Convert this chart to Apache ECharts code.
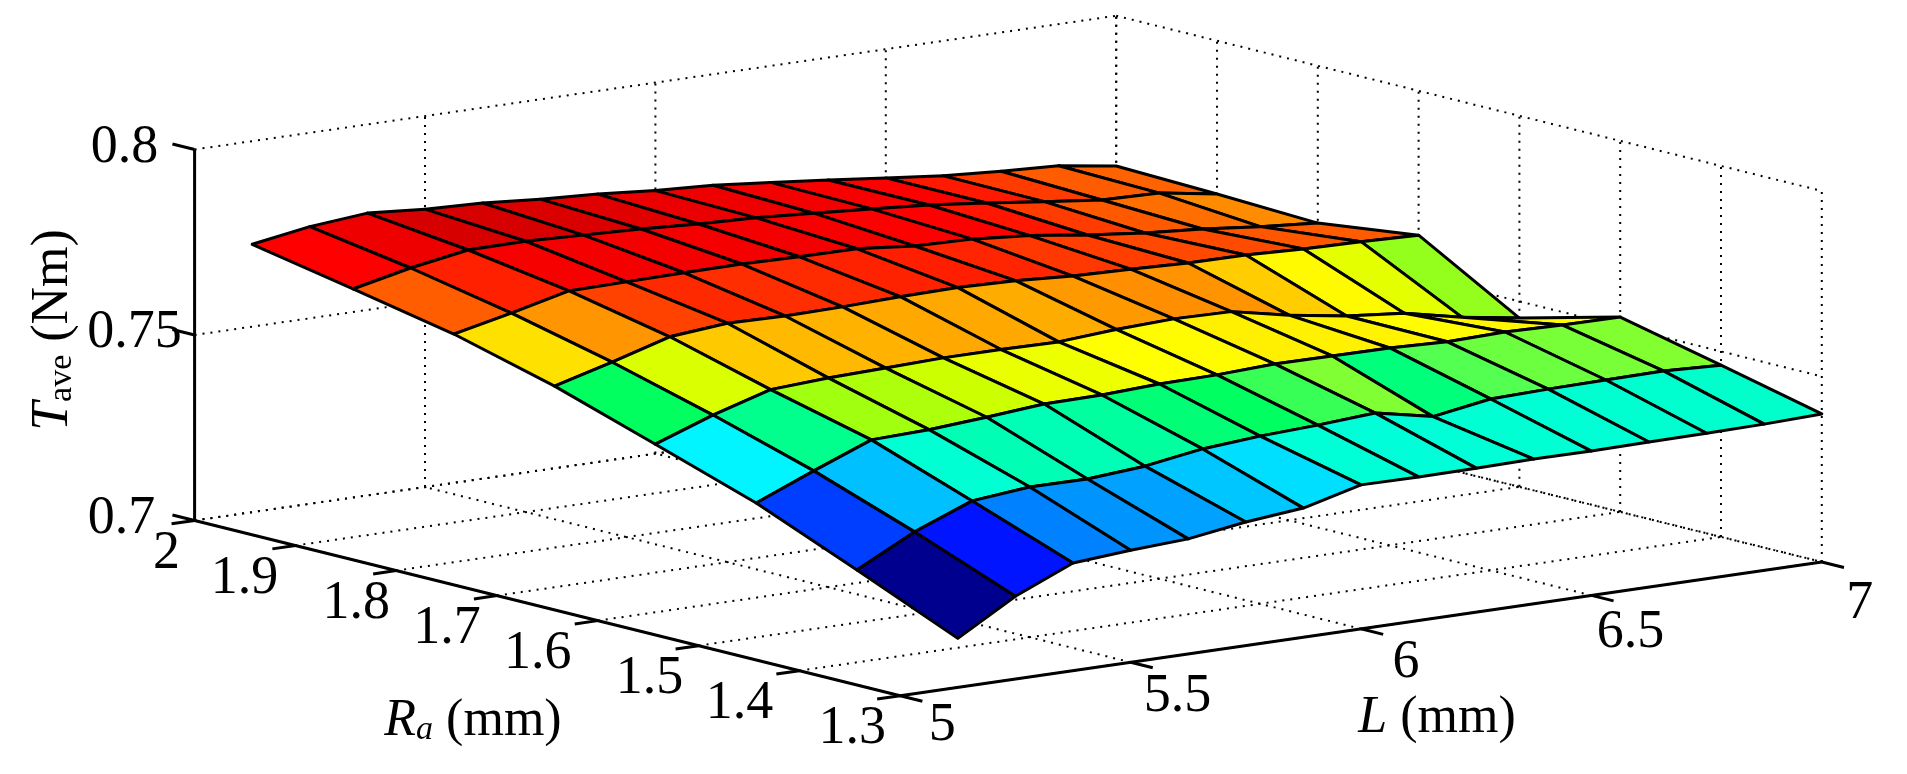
<!DOCTYPE html>
<html>
<head>
<meta charset="utf-8">
<title>Tave surface</title>
<style>
  html, body { margin: 0; padding: 0; background: #fff; }
  #main { width: 1907px; height: 774px; }
</style>
<script src="https://cdn.jsdelivr.net/npm/echarts@6/dist/echarts.min.js"></script>
</head>
<body>
<div id="main"></div>
<script>
// surface samples, one row per Ra value, one column per L value
var lengths = [5.125, 5.25, 5.375, 5.5, 5.625, 5.75, 5.875, 6, 6.125, 6.25, 6.375, 6.5, 6.625, 6.75, 6.875, 7];
var radii = [2, 1.9, 1.8, 1.7, 1.6, 1.5, 1.4, 1.3];
var taveRa20 = [.7722, .7747, .7761, .7749, .7743, .7731, .7722, .7709, .7701, .7686, .7670, .7653, .7636, .7626, .7618, .7595];
var taveRa19 = [.7669, .7703, .7729, .7730, .7724, .7718, .7709, .7703, .7693, .7682, .7670, .7653, .7634, .7616, .7612, .7587];
var taveRa18 = [.7615, .7649, .7686, .7688, .7690, .7691, .7688, .7687, .7672, .7668, .7655, .7634, .7617, .7605, .7589, .7576];
var taveRa17 = [.7542, .7584, .7630, .7644, .7641, .7643, .7648, .7650, .7646, .7636, .7632, .7626, .7625, .7619, .7616, .7611];
var taveRa16 = [.7453, .7509, .7555, .7564, .7568, .7573, .7573, .7571, .7582, .7588, .7585, .7553, .7528, .7513, .7480, .7455];
var taveRa15 = [.7362, .7426, .7487, .7492, .7503, .7516, .7518, .7525, .7527, .7534, .7533, .7532, .7526, .7530, .7526, .7525];
var taveRa14 = [.7249, .7329, .7390, .7405, .7404, .7416, .7440, .7452, .7459, .7469, .7437, .7462, .7466, .7468, .7470, .7463];
var taveRa13 = [.7132, .7223, .7290, .7302, .7310, .7333, .7348, .7388, .7387, .7388, .7390, .7389, .7391, .7392, .7394, .7399];
var taveRows = [taveRa20, taveRa19, taveRa18, taveRa17, taveRa16, taveRa15, taveRa14, taveRa13];

// axis ticks
var lTicks = [5, 5.5, 6, 6.5, 7];
var raTicks = [2, 1.9, 1.8, 1.7, 1.6, 1.5, 1.4, 1.3];
var tTicks = [0.7, 0.75, 0.8];
var lTickLabels = ['5', '5.5', '6', '6.5', '7'];
var raTickLabels = ['2', '1.9', '1.8', '1.7', '1.6', '1.5', '1.4', '1.3'];
var tTickLabels = ['0.7', '0.75', '0.8'];

// colormap, a jet with a short green
var cmapStops = [0, .125, .375, .45, .51, .525, .536, .564, .59, .625, .85, .91, 1];
var cmapColors = ['#00008f', '#0000ff', '#00ffff', '#00ffa0', '#00ff60', '#55ff50', '#80ff33', '#a0ff10', '#ccff00', '#ffff00', '#ff0000', '#ee0000', '#b80000'];

var allT = [].concat.apply([], taveRows);
var tMin = Math.min.apply(null, allT);
var tMax = Math.max.apply(null, allT);

function cmap(v) {
    var t = (v - tMin) / (tMax - tMin);
    for (var i = 1; i < cmapStops.length; i++) {
        if (t <= cmapStops[i]) {
            var f = (t - cmapStops[i - 1]) / (cmapStops[i] - cmapStops[i - 1]);
            return echarts.color.lerp(f, [cmapColors[i - 1], cmapColors[i]]);
        }
    }
    return cmapColors[cmapColors.length - 1];
}

// fixed view of the 3d box, no perspective
function project(L, Ra, T) {
    var a = (L - 5) / 0.125;
    var b = (2 - Ra) / 0.1;
    return [194.6 + a * 57.6 + b * 100.8, 520.5 - a * 8.36 + b * 25.03 - (T - 0.7) * 3710];
}

var LMIN = 5, LMAX = 7, RAMIN = 1.3, RAMAX = 2, TMIN = 0.7, TMAX = 0.8;

// dotted grid on floor and the two back walls
var gridSegs = [];
lTicks.forEach(function (l) {
    gridSegs.push([l, RAMIN, TMIN, l, RAMAX, TMIN]);
    gridSegs.push([l, RAMAX, TMIN, l, RAMAX, TMAX]);
});
raTicks.forEach(function (r) {
    gridSegs.push([LMIN, r, TMIN, LMAX, r, TMIN]);
    gridSegs.push([LMAX, r, TMIN, LMAX, r, TMAX]);
});
tTicks.forEach(function (t) {
    gridSegs.push([LMIN, RAMAX, t, LMAX, RAMAX, t]);
    gridSegs.push([LMAX, RAMAX, t, LMAX, RAMIN, t]);
});

// solid axes and their ticks
var axisSegs = [
    [LMIN, RAMAX, TMIN, LMIN, RAMAX, TMAX],
    [LMIN, RAMAX, TMIN, LMIN, RAMIN, TMIN],
    [LMIN, RAMIN, TMIN, LMAX, RAMIN, TMIN]
];
tTicks.forEach(function (t) { axisSegs.push([LMIN, RAMAX, t, LMIN, RAMAX + 0.022, t]); });
raTicks.forEach(function (r) { axisSegs.push([LMIN, r, TMIN, LMIN - 0.05, r, TMIN]); });
lTicks.forEach(function (l) { axisSegs.push([l, RAMIN, TMIN, l, RAMIN - 0.022, TMIN]); });

// cells painted back to front
var cells = [];
for (var r = 0; r < radii.length - 1; r++) {
    for (var k = lengths.length - 2; k >= 0; k--) {
        cells.push([k, r]);
    }
}

function segItem(width, dash) {
    return function (params, api) {
        var s = gridOrAxis(params.seriesName)[params.dataIndex];
        var p1 = api.coord(project(s[0], s[1], s[2]));
        var p2 = api.coord(project(s[3], s[4], s[5]));
        return {
            type: 'line',
            shape: { x1: p1[0], y1: p1[1], x2: p2[0], y2: p2[1] },
            style: { stroke: '#000', lineWidth: width, lineDash: dash, lineCap: 'butt' }
        };
    };
}
function gridOrAxis(name) { return name === 'grid' ? gridSegs : axisSegs; }

function renderCell(params, api) {
    var k = api.value(0), r = api.value(1);
    var corners = [[k, r], [k + 1, r], [k + 1, r + 1], [k, r + 1]];
    var pts = corners.map(function (c) {
        return api.coord(project(lengths[c[0]], radii[c[1]], taveRows[c[1]][c[0]]));
    });
    return {
        type: 'polygon',
        shape: { points: pts },
        // flat colour comes from the low L, low Ra corner
        style: { fill: cmap(taveRows[r + 1][k]), stroke: '#000', lineWidth: 3, lineJoin: 'round' }
    };
}

var FONT = '"Liberation Serif", "Times New Roman", serif';
var texts = [];
tTicks.forEach(function (t, i) {
    var p = project(LMIN, RAMAX, t);
    texts.push({ text: tTickLabels[i], x: p[0] + [-73, -60, -70][i], y: p[1] - 2 });
});
raTicks.forEach(function (r, i) {
    var p = project(LMIN, r, TMIN);
    texts.push({ text: raTickLabels[i], x: p[0] + [-28, -51, -40, -50, -60, -49, -60, -48][i], y: p[1] + 33 });
});
lTicks.forEach(function (l, i) {
    var p = project(l, RAMIN, TMIN);
    texts.push({ text: lTickLabels[i], x: p[0] + [42, 47, 45, 39, 38][i], y: p[1] + [30, 35, 34, 37, 42][i] });
});
texts.push({ text: '{i|R}{s|a}{n| (mm)}', x: 473, y: 717 });
texts.push({ text: '{i|L}{n| (mm)}', x: 1437, y: 714 });
texts.push({ text: '{i|T}{u|ave}{n| (Nm)}', x: 49, y: 330, rotation: Math.PI / 2 });

function renderText(params, api) {
    var t = texts[params.dataIndex];
    var p = api.coord([t.x, t.y]);
    return {
        type: 'text',
        x: p[0],
        y: p[1],
        rotation: t.rotation || 0,
        style: {
            text: t.text,
            align: 'center',
            verticalAlign: 'middle',
            fontFamily: FONT,
            fontSize: 54,
            fill: '#000',
            rich: {
                i: { fontFamily: FONT, fontSize: 52, fontStyle: 'italic', fill: '#000', verticalAlign: 'bottom', lineHeight: 60 },
                n: { fontFamily: FONT, fontSize: 52, fill: '#000', verticalAlign: 'bottom', lineHeight: 60 },
                s: { fontFamily: FONT, fontSize: 34, fontStyle: 'italic', fill: '#000', verticalAlign: 'bottom', lineHeight: 52 },
                u: { fontFamily: FONT, fontSize: 34, fill: '#000', verticalAlign: 'bottom', lineHeight: 52 }
            }
        }
    };
}

function idx(list) { return list.map(function (d, i) { return [i]; }); }

var myChart = echarts.init(document.getElementById('main'));
var option = {
    backgroundColor: '#ffffff',
    animation: false,
    grid: { left: 0, right: 0, top: 0, bottom: 0 },
    xAxis: { type: 'value', min: 0, max: 1907, show: false },
    yAxis: { type: 'value', min: 0, max: 774, inverse: true, show: false },
    series: [
        { name: 'grid', type: 'custom', z: 1, silent: true, clip: false, renderItem: segItem(2, [2, 6]), data: idx(gridSegs) },
        { name: 'surface', type: 'custom', z: 2, silent: true, clip: false, renderItem: renderCell, data: cells },
        { name: 'axes', type: 'custom', z: 3, silent: true, clip: false, renderItem: segItem(3), data: idx(axisSegs) },
        { name: 'labels', type: 'custom', z: 4, silent: true, clip: false, renderItem: renderText, data: idx(texts) }
    ]
};
myChart.setOption(option);
</script>
</body>
</html>
